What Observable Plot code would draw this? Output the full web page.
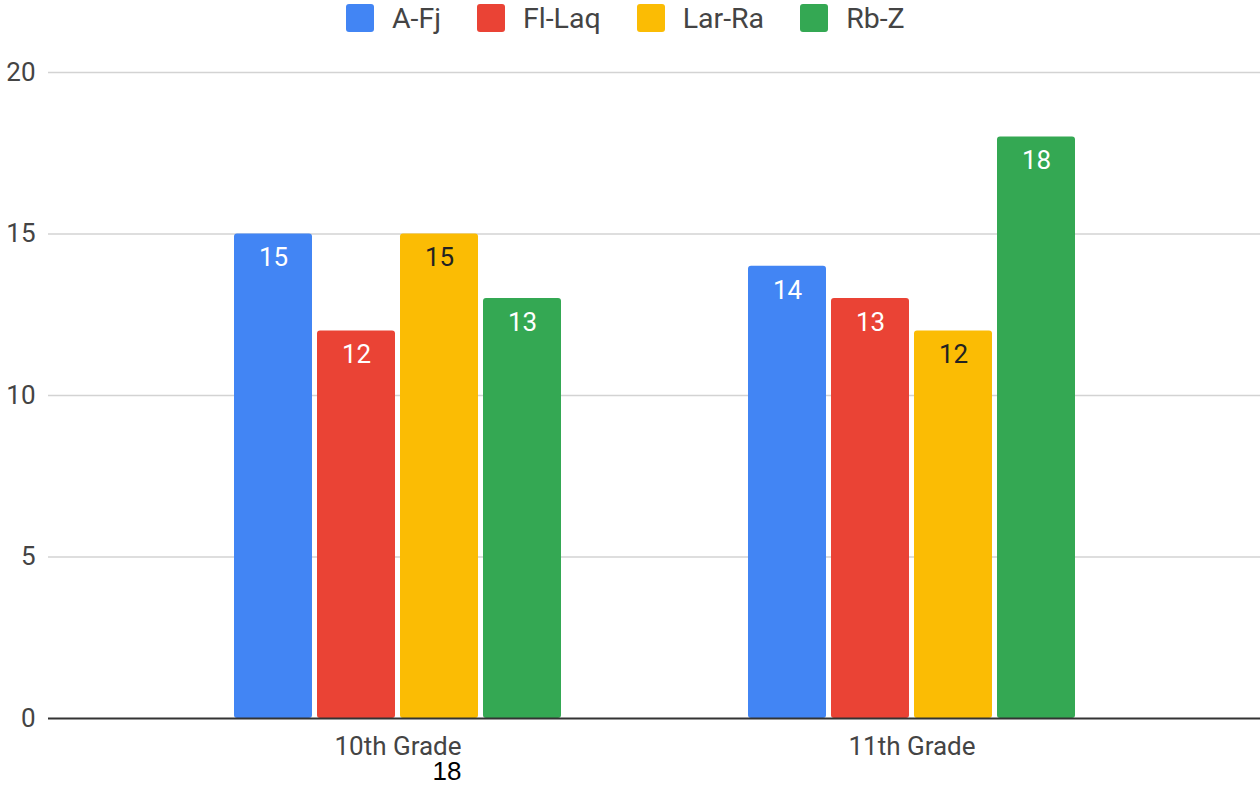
<!DOCTYPE html>
<html>
<head>
<meta charset="utf-8">
<script src="https://cdn.jsdelivr.net/npm/d3@7"></script>
<script src="https://cdn.jsdelivr.net/npm/@observablehq/plot@0.6"></script>
<style>
  html, body { margin: 0; padding: 0; background: #fff; }
  #page { position: relative; width: 1260px; height: 786px; overflow: hidden; font-family: Roboto, sans-serif; }
  #legend { position: absolute; top: 4px; left: 346px; height: 28px; display: flex; align-items: center; font-size: 28.5px; color: #444; white-space: nowrap; }
  .item { display: flex; align-items: center; margin-right: 36px; }
  .sw { width: 28px; height: 28px; border-radius: 3px; margin-right: 18px; flex: none; }
  #chart { position: absolute; top: 40px; left: 0; width: 1260px; height: 720px; }
  #chart svg { position: absolute; left: 0; top: 0; }
  #caption { position: absolute; top: 761px; left: 447px; transform: translateX(-50%); font-family: "Liberation Sans", Arial, sans-serif; font-size: 26px; line-height: 20px; color: #000; }
</style>
</head>
<body>
<div id="page">
  <div id="legend"></div>
  <div id="chart"></div>
  <div id="caption"></div>
</div>
<script>
const grades = ["10th Grade", "11th Grade"];
const series = ["A-Fj", "Fl-Laq", "Lar-Ra", "Rb-Z"];
const values10th = [15, 12, 15, 13];
const values11th = [14, 13, 12, 18];
const colors = ["#4285f4", "#ea4335", "#fbbc04", "#34a853"];
const yTicks = [0, 5, 10, 15, 20];
const captionText = "18";

const valuesByGrade = [values10th, values11th];
const data = grades.flatMap((g, i) => series.map((s, j) => ({grade: g, series: s, value: valuesByGrade[i][j]})));

// legend
const legendEl = document.getElementById("legend");
series.forEach((s, i) => {
  const it = document.createElement("div");
  it.className = "item";
  const sw = document.createElement("div");
  sw.className = "sw";
  sw.style.background = colors[i];
  const t = document.createElement("span");
  t.textContent = s;
  it.appendChild(sw); it.appendChild(t);
  legendEl.appendChild(it);
});
document.getElementById("caption").textContent = captionText;

const common = {
  width: 1260, height: 720,
  marginTop: 32, marginBottom: 42, marginLeft: 48, marginRight: 0
};
const baseStyle = {fontFamily: "Roboto, sans-serif", fontSize: "26px", color: "#444", background: "transparent", overflow: "visible"};

const bgPlot = Plot.plot({
  ...common,
  style: baseStyle,
  y: {domain: [0, 20], ticks: yTicks, tickSize: 0, tickPadding: 13, label: null},
  marks: [
    Plot.ruleY(yTicks.filter(t => t > 0), {stroke: "#d3d3d3", strokeWidth: 1.5})
  ]
});

const barPlot = Plot.plot({
  ...common,
  style: baseStyle,
  facet: {data, x: "grade"},
  fx: {domain: grades, paddingInner: 0.1, paddingOuter: 0.2267, axis: "bottom", label: null, tickSize: 0, tickPadding: 18},
  x: {domain: series, paddingInner: 0.064, paddingOuter: 0.813, axis: null},
  y: {domain: [0, 20], axis: null},
  color: {domain: series, range: colors},
  marks: [
    Plot.barY(data, {x: "series", y: "value", fill: "series", rx: 3}),
    Plot.text(data, {filter: d => d.series !== "Lar-Ra", x: "series", y: "value", text: d => String(d.value), dy: 24, fill: "#ffffff", fontSize: 26}),
    Plot.text(data, {filter: d => d.series === "Lar-Ra", x: "series", y: "value", text: d => String(d.value), dy: 24, fill: "#222222", fontSize: 26})
  ]
});

const zeroPlot = Plot.plot({
  ...common,
  style: baseStyle,
  y: {domain: [0, 20], axis: null},
  marks: [Plot.ruleY([0], {stroke: "#333333", strokeWidth: 2})]
});

const chartEl = document.getElementById("chart");
chartEl.appendChild(bgPlot);
chartEl.appendChild(barPlot);
chartEl.appendChild(zeroPlot);
</script>
</body>
</html>
